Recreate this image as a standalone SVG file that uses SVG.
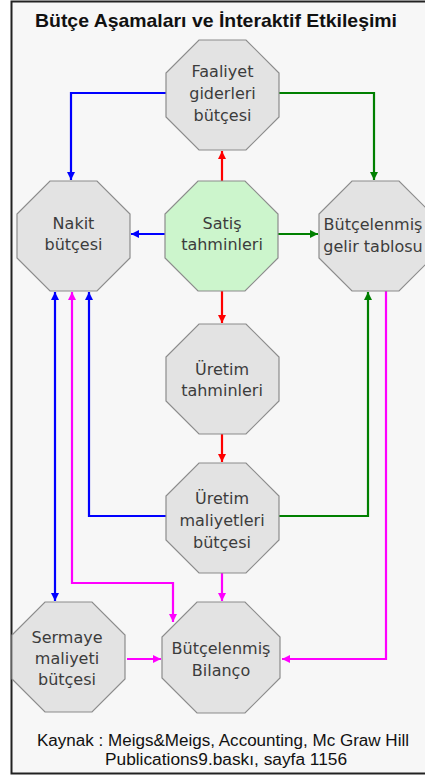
<svg xmlns="http://www.w3.org/2000/svg" width="425" height="778" viewBox="0 0 425 778">
<style>
.oct{fill:#e3e3e3;stroke:#8c8c8c;stroke-width:1.2}
.green{fill:#ccf5cc;stroke:#8c8c8c;stroke-width:1.2}
.lbl{font-family:"DejaVu Sans",sans-serif;font-size:16px;fill:#3c3c3c;text-anchor:middle}
.c{fill:none;stroke-width:2.2}
.r{stroke:#ff0000;marker-end:url(#ar)}
.b{stroke:#0000ff}
.g{stroke:#008000;marker-end:url(#ag)}
.m{stroke:#ff00ff}
.foot{font-family:"Liberation Sans",Arial,sans-serif;font-size:16px;fill:#111;text-anchor:middle}
</style>
<defs>
<polygon id="oct" points="33,0 80,0 113,33 113,77 80,110 33,110 0,77 0,33"/>
<marker id="ar" markerUnits="userSpaceOnUse" markerWidth="9" markerHeight="8" refX="8" refY="4" orient="auto-start-reverse"><path d="M0,0 L8,4 L0,8 z" fill="#ff0000"/></marker>
<marker id="ab" markerUnits="userSpaceOnUse" markerWidth="9" markerHeight="8" refX="8" refY="4" orient="auto-start-reverse"><path d="M0,0 L8,4 L0,8 z" fill="#0000ff"/></marker>
<marker id="ag" markerUnits="userSpaceOnUse" markerWidth="9" markerHeight="8" refX="8" refY="4" orient="auto-start-reverse"><path d="M0,0 L8,4 L0,8 z" fill="#008000"/></marker>
<marker id="am" markerUnits="userSpaceOnUse" markerWidth="9" markerHeight="8" refX="8" refY="4" orient="auto-start-reverse"><path d="M0,0 L8,4 L0,8 z" fill="#ff00ff"/></marker>
</defs>
<rect x="0" y="0" width="425" height="778" fill="#ffffff"/>
<rect x="11" y="1.5" width="414" height="772" fill="#f7f7f7"/>
<path d="M425,1.5 H11.5 V773.5 H425" fill="none" stroke="#222" stroke-width="2"/>
<text x="216" y="26.5" font-family="Liberation Sans,Arial,sans-serif" font-size="19" font-weight="bold" fill="#111" text-anchor="middle" textLength="362" lengthAdjust="spacingAndGlyphs">Bütçe Aşamaları ve İnteraktif Etkileşimi</text>
<g id="connectors">
<path class="c r" d="M222,181 V151"/>
<path class="c r" d="M222,291 V323"/>
<path class="c r" d="M222,434 V462"/>
<path class="c b" d="M166,93 H71 V180" marker-end="url(#ab)"/>
<path class="c b" d="M165,234 H131" marker-end="url(#ab)"/>
<path class="c b" d="M166,516 H89 V292" marker-end="url(#ab)"/>
<path class="c b" d="M55,292 V601" marker-start="url(#ab)" marker-end="url(#ab)"/>
<path class="c g" d="M279,93 H374 V180"/>
<path class="c g" d="M277,234 H318"/>
<path class="c g" d="M278,516 H368 V292"/>
<path class="c m" d="M72,292 V583 H173 V622" marker-start="url(#am)" marker-end="url(#am)"/>
<path class="c m" d="M222,573 V601" marker-end="url(#am)"/>
<path class="c m" d="M127,659 H161" marker-end="url(#am)"/>
<path class="c m" d="M386,291 V659 H282" marker-end="url(#am)"/>
</g>
<g id="faaliyet"><use href="#oct" class="oct" x="166" y="40"/>
<text class="lbl"><tspan x="222.5" y="77">Faaliyet</tspan><tspan x="222.5" y="99">giderleri</tspan><tspan x="222.5" y="121">bütçesi</tspan></text></g>
<g id="nakit"><use href="#oct" class="oct" x="17" y="181"/>
<text class="lbl"><tspan x="73.5" y="229">Nakit</tspan><tspan x="73.5" y="250">bütçesi</tspan></text></g>
<g id="satis"><use href="#oct" class="green" x="165" y="181"/>
<text class="lbl"><tspan x="222" y="229">Satiş</tspan><tspan x="222" y="250">tahminleri</tspan></text></g>
<g id="gelir"><use href="#oct" class="oct" x="319" y="181"/>
<text class="lbl"><tspan x="373" y="230">Bütçelenmiş</tspan><tspan x="373" y="252">gelir tablosu</tspan></text></g>
<g id="uretim-tahmin"><use href="#oct" class="oct" x="166" y="324"/>
<text class="lbl"><tspan x="222" y="375">Üretim</tspan><tspan x="222" y="396">tahminleri</tspan></text></g>
<g id="uretim-maliyet"><use href="#oct" class="oct" x="166" y="463"/>
<text class="lbl"><tspan x="222" y="504">Üretim</tspan><tspan x="222" y="526">maliyetleri</tspan><tspan x="222" y="548">bütçesi</tspan></text></g>
<g id="sermaye"><use href="#oct" class="oct" x="12" y="602"/>
<text class="lbl"><tspan x="67" y="643">Sermaye</tspan><tspan x="67" y="664">maliyeti</tspan><tspan x="67" y="685">bütçesi</tspan></text></g>
<g id="bilanco"><polygon class="oct" points="197,602 245,602 280,637 280,678 245,713 197,713 162,678 162,637"/>
<text class="lbl"><tspan x="221" y="654">Bütçelenmiş</tspan><tspan x="221" y="676">Bilanço</tspan></text></g>
<text class="foot" x="223" y="746" textLength="372" lengthAdjust="spacingAndGlyphs">Kaynak : Meigs&amp;Meigs, Accounting, Mc Graw Hill</text>
<text class="foot" x="226" y="765" textLength="242" lengthAdjust="spacingAndGlyphs">Publications9.baskı, sayfa 1156</text>
</svg>
